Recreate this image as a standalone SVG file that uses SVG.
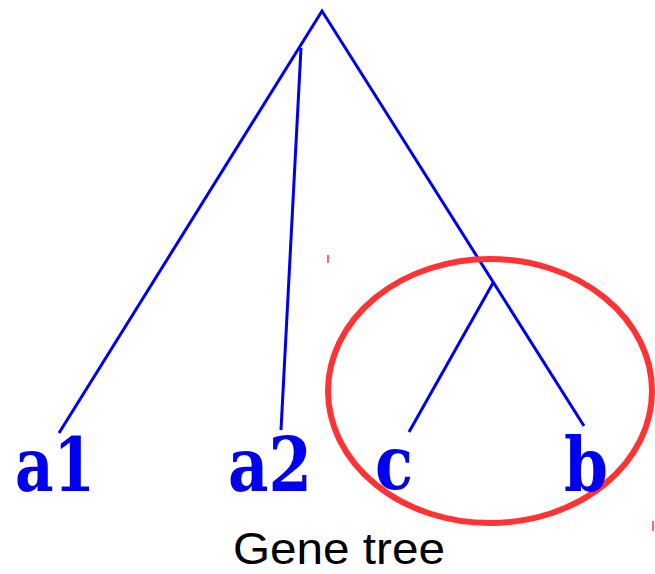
<svg xmlns="http://www.w3.org/2000/svg" width="655" height="574" viewBox="0 0 655 574">
<style>
.edge{stroke:#0000ee;stroke-width:3;fill:none;stroke-linecap:butt}
.leaf{font-family:"DejaVu Serif",serif;font-weight:bold;font-stretch:condensed;font-size:75px;fill:#0000ee}
.cap{font-family:"Liberation Sans",Arial,sans-serif;font-size:44px;fill:#000}
</style>
<rect width="655" height="574" fill="#fff"/>
<g id="connectors">
<polyline class="edge" points="59,433 322,11 584,426"/>
<line class="edge" x1="301" y1="48" x2="281" y2="430"/>
<line class="edge" x1="493" y1="283" x2="409" y2="432"/>
</g>
<g id="clade">
<ellipse cx="490" cy="391" rx="162" ry="132" fill="none" stroke="#ff3333" stroke-width="6"/>
</g>
<g id="leaf-a1"><text class="leaf" x="15" y="491" textLength="80" lengthAdjust="spacingAndGlyphs">a1</text></g>
<g id="leaf-a2"><text class="leaf" x="228" y="491" textLength="84" lengthAdjust="spacingAndGlyphs">a2</text></g>
<g id="leaf-c"><text class="leaf" x="375" y="489" textLength="38" lengthAdjust="spacingAndGlyphs">c</text></g>
<g id="leaf-b"><text class="leaf" x="564" y="491" textLength="44" lengthAdjust="spacingAndGlyphs">b</text></g>
<g id="caption"><text class="cap" x="233" y="564" textLength="212" lengthAdjust="spacingAndGlyphs">Gene tree</text></g>
<g id="marks" stroke="#ff3333" stroke-width="1.5">
<line x1="328" y1="255" x2="328" y2="263"/>
<line x1="653" y1="521" x2="653" y2="531"/>
</g>
</svg>
